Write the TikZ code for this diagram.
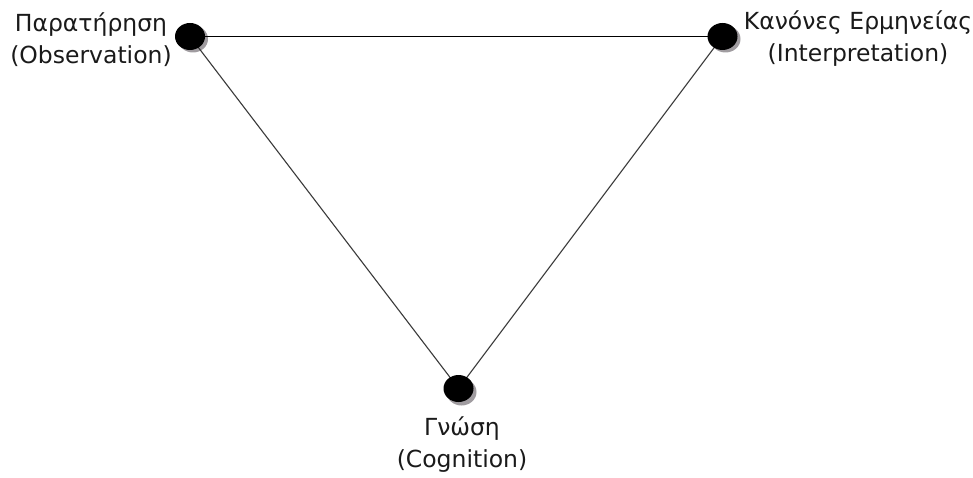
\documentclass[tikz,border=0pt]{standalone}
\usepackage{fontspec}
\setmainfont{DejaVu Sans}
\usetikzlibrary{shapes.geometric}
\definecolor{ink}{HTML}{1A1A1A}
\definecolor{edgegray}{HTML}{3A3A3A}
\definecolor{shadowgray}{HTML}{A09CA0}
\begin{document}
\begin{tikzpicture}[x=1pt,y=-1pt,
  dot/.style={ellipse, fill=black, minimum width=30pt, minimum height=27pt, inner sep=0pt},
  dotshadow/.style={ellipse, fill=shadowgray, minimum width=30pt, minimum height=27pt, inner sep=0pt},
  lbl/.style={align=center, text=ink, font=\fontsize{23.5}{32}\selectfont, inner sep=0pt, anchor=base},
  edge/.style={draw=edgegray, line width=1.1pt}]
\useasboundingbox[fill=white] (0,0) rectangle (973,478);
\node[dotshadow] (Ls) at (193,39) {};
\node[dotshadow] (Rs) at (725.5,39) {};
\node[dotshadow] (Bs) at (461.5,392) {};
\coordinate (L) at (190,36.5);
\coordinate (R) at (722.5,36.5);
\coordinate (B) at (458.5,388.5);
\draw[edge, draw=black] (L) -- (R);
\draw[edge] (L) -- (B);
\draw[edge] (R) -- (B);
\node[dot] (Ld) at (L) {};
\node[dot] (Rd) at (R) {};
\node[dot] (Bd) at (B) {};
\node[lbl] (Lt) at (91,64) {Παρατήρηση\\(Observation)};
\node[lbl] (Rt) at (858,62) {Κανόνες Ερμηνείας\\(Interpretation)};
\node[lbl] (Bt) at (462,467) {Γνώση\\(Cognition)};
\end{tikzpicture}
\end{document}
